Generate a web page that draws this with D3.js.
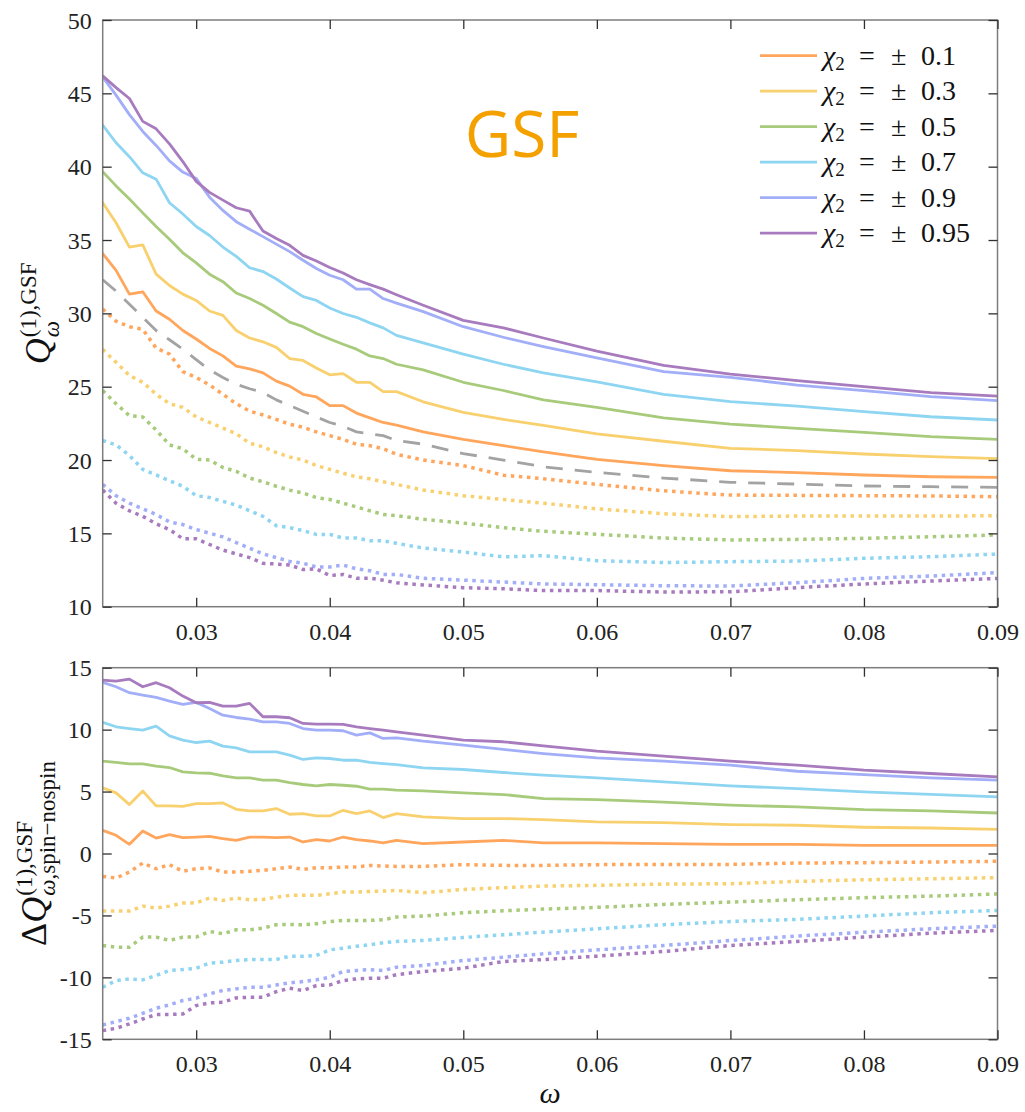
<!DOCTYPE html>
<html><head><meta charset="utf-8">
<script src="https://cdn.jsdelivr.net/npm/d3@7/dist/d3.min.js"></script>
<style>body{margin:0;background:#fff;} svg{display:block;} svg text{font-family:"Liberation Serif", serif;}</style>
</head><body>
<svg id="chart" width="1025" height="1112"></svg>
<script>
// ---- data ----
const omega = [0.023,0.024,0.025,0.026,0.027,0.028,0.029,0.030,0.031,0.032,0.033,0.034,0.035,0.036,0.037,0.038,0.039,0.040,0.041,0.042,0.043,0.044,0.045,
  0.047,0.050,0.053,0.056,0.060,0.065,0.070,0.075,0.080,0.085,0.090];
const spinLabels = ["0.1","0.3","0.5","0.7","0.9","0.95"];
const xTicks = [0.03,0.04,0.05,0.06,0.07,0.08,0.09];
const yTicksTop = [10,15,20,25,30,35,40,45,50];
const yTicksBottom = [-15,-10,-5,0,5,10,15];

// Q^(1),GSF for chi2 = +value (solid)
const qPos01 = [34.08,32.93,31.31,31.47,30.16,29.6,28.83,28.25,27.61,27.1,26.4,26.22,25.94,25.38,25.04,24.48,24.3,23.71,23.71,23.2,22.87,22.56,22.38,21.92,21.41,20.98,20.56,20.05,19.62,19.27,19.14,18.98,18.86,18.82];
const qPos03 = [37.54,36.18,34.52,34.67,32.67,31.9,31.31,30.88,30.16,29.86,28.83,28.32,28.06,27.68,26.92,26.79,26.28,25.81,25.89,25.3,25.3,24.66,24.66,23.97,23.25,22.77,22.36,21.79,21.28,20.8,20.64,20.41,20.23,20.09];
const qPos05 = [39.66,38.69,37.79,36.85,35.92,35.05,34.13,33.44,32.67,32.16,31.39,31.01,30.55,29.99,29.4,29.09,28.63,28.25,27.89,27.56,27.1,26.92,26.53,26.15,25.3,24.74,24.1,23.59,22.87,22.45,22.16,21.89,21.59,21.41];
const qPos07 = [42.83,41.63,40.68,39.58,39.15,37.54,36.77,35.92,35.31,34.52,33.88,33.11,32.85,32.34,31.73,31.14,30.88,30.37,29.99,29.73,29.35,29.01,28.5,27.99,27.22,26.53,25.94,25.33,24.48,23.98,23.68,23.3,22.95,22.73];
const qPos09 = [46.11,44.88,43.55,42.4,41.45,40.4,39.63,39.2,37.92,37.02,36.25,35.74,35.23,34.72,34.21,33.62,33.06,32.6,32.29,31.65,31.65,31.01,30.7,30.12,29.09,28.37,27.73,26.96,26.02,25.64,25.11,24.73,24.32,24.05];
const qPos095 = [46.19,45.39,44.65,43.09,42.58,41.55,40.35,39.0,38.25,37.72,37.2,36.97,35.61,35.1,34.64,33.95,33.57,33.13,32.75,32.29,31.96,31.65,31.27,30.55,29.52,29.01,28.32,27.42,26.45,25.86,25.41,25.0,24.59,24.36];
// chi2 = -value (dotted)
const qNeg01 = [30.29,29.47,29.09,28.91,27.63,27.22,26.02,25.63,25.12,24.48,23.84,23.33,23.07,22.77,22.44,22.23,21.92,21.66,21.41,21.08,20.98,20.77,20.39,20.0,19.62,18.97,18.72,18.34,17.9,17.61,17.59,17.57,17.55,17.5];
const qNeg03 = [27.55,26.66,25.76,25.3,24.48,23.84,23.59,22.94,22.56,22.18,21.79,21.15,20.9,20.51,20.21,20.0,19.62,19.36,19.1,18.85,18.72,18.52,18.34,17.95,17.57,17.31,17.06,16.67,16.34,16.14,16.18,16.18,16.18,16.2];
const qNeg05 = [24.74,23.84,23.02,22.94,22.05,21.03,20.77,20.05,20.0,19.49,19.23,18.77,18.52,18.21,17.95,17.75,17.44,17.31,17.06,16.8,16.54,16.29,16.21,15.96,15.7,15.39,15.14,14.94,14.68,14.55,14.59,14.66,14.77,14.89];
const qNeg07 = [21.33,21.03,20.31,19.36,18.98,18.59,18.21,17.57,17.44,17.18,16.93,16.54,16.16,15.52,15.39,15.19,14.93,14.93,14.68,14.68,14.5,14.5,14.32,14.0,13.73,13.4,13.48,13.14,13.01,13.07,13.11,13.3,13.41,13.59];
const qNeg09 = [18.34,17.57,17.06,16.67,16.29,15.78,15.6,15.26,15.01,14.76,14.37,13.99,13.6,13.35,13.09,12.96,12.71,12.71,12.84,12.58,12.45,12.2,12.2,11.94,11.81,11.68,11.55,11.5,11.43,11.41,11.64,11.93,12.09,12.32];
const qNeg095 = [17.95,17.06,16.54,16.16,15.65,15.26,14.63,14.63,14.24,13.86,13.6,13.35,12.96,12.91,12.84,12.53,12.58,12.12,12.2,11.94,11.94,11.81,11.63,11.48,11.3,11.22,11.1,11.1,11.0,11.02,11.3,11.55,11.75,11.93];
// non-spinning (dashed)
const qNoSpin = [32.29,31.52,30.62,29.73,28.83,28.2,27.56,26.84,26.15,25.63,25.17,24.86,24.61,24.1,23.71,23.33,22.94,22.56,22.3,21.92,21.79,21.66,21.33,21.08,20.44,20.0,19.54,19.16,18.77,18.48,18.36,18.23,18.18,18.14];

// Delta Q (spin - nospin)
const dPos01 = [1.87,1.47,0.74,1.82,1.25,1.52,1.28,1.33,1.39,1.2,1.06,1.33,1.33,1.28,1.33,0.93,1.12,1.01,1.33,1.12,1.01,0.85,1.06,0.8,0.93,1.06,0.85,0.85,0.8,0.74,0.74,0.66,0.66,0.66];
const dPos03 = [5.3,4.89,3.95,5.05,3.84,3.84,3.81,4.03,4.03,4.08,3.57,3.44,3.44,3.63,3.17,3.22,3.03,3.03,3.49,3.22,3.44,2.9,3.22,2.95,2.82,2.82,2.74,2.55,2.49,2.33,2.28,2.12,2.06,1.95];
const dPos05 = [7.45,7.35,7.24,7.24,7.05,6.94,6.59,6.51,6.48,6.27,6.11,6.11,5.92,5.92,5.73,5.57,5.46,5.57,5.51,5.43,5.19,5.19,5.11,5.05,4.89,4.76,4.43,4.35,4.14,3.9,3.76,3.54,3.44,3.27];
const dPos07 = [10.58,10.23,10.09,9.96,10.28,9.5,9.15,8.96,9.07,8.67,8.53,8.21,8.21,8.21,7.94,7.59,7.72,7.67,7.53,7.53,7.35,7.26,7.18,6.91,6.78,6.54,6.32,6.11,5.78,5.46,5.24,4.97,4.78,4.57];
const dPos09 = [13.81,13.46,12.98,12.79,12.6,12.3,12.04,12.2,11.71,11.17,10.98,10.85,10.63,10.63,10.5,10.09,9.96,9.96,9.91,9.56,9.74,9.29,9.34,9.07,8.75,8.4,8.07,7.72,7.45,7.13,6.64,6.37,6.11,5.92];
const dPos095 = [14.0,13.92,14.08,13.46,13.79,13.38,12.71,12.17,12.2,11.9,11.9,12.12,11.04,11.04,10.96,10.5,10.44,10.44,10.42,10.23,10.09,9.96,9.82,9.56,9.15,9.02,8.69,8.26,7.86,7.45,7.13,6.73,6.46,6.19];
const dNeg01 = [-1.85,-1.98,-1.5,-0.77,-1.23,-0.9,-1.44,-1.23,-1.17,-1.5,-1.5,-1.44,-1.36,-1.23,-1.09,-1.28,-1.15,-1.15,-1.09,-1.09,-0.96,-1.01,-1.04,-1.04,-0.9,-0.96,-0.96,-0.9,-0.88,-0.88,-0.77,-0.74,-0.69,-0.63];
const dNeg03 = [-4.65,-4.65,-4.65,-4.25,-4.41,-4.25,-4.0,-3.98,-3.6,-3.79,-3.6,-3.74,-3.71,-3.52,-3.38,-3.38,-3.38,-3.25,-3.11,-3.11,-3.06,-3.03,-2.98,-3.17,-2.9,-2.76,-2.63,-2.57,-2.47,-2.44,-2.25,-2.12,-2.04,-1.95];
const dNeg05 = [-7.43,-7.56,-7.56,-6.75,-6.75,-7.02,-6.75,-6.75,-6.29,-6.48,-6.16,-6.16,-6.02,-5.75,-5.73,-5.75,-5.67,-5.49,-5.4,-5.4,-5.4,-5.35,-5.13,-5.05,-4.78,-4.62,-4.49,-4.35,-4.11,-3.92,-3.73,-3.57,-3.44,-3.27];
const dNeg07 = [-10.8,-10.26,-10.12,-10.2,-9.85,-9.45,-9.37,-9.26,-8.85,-8.77,-8.64,-8.56,-8.56,-8.56,-8.29,-8.29,-8.23,-7.78,-7.64,-7.48,-7.37,-7.21,-7.1,-7.02,-6.78,-6.56,-6.35,-6.08,-5.75,-5.49,-5.32,-5.05,-4.78,-4.6];
const dNeg09 = [-13.84,-13.57,-13.3,-12.9,-12.49,-12.22,-11.87,-11.68,-11.33,-11.06,-10.93,-10.8,-10.8,-10.61,-10.44,-10.34,-10.2,-9.99,-9.53,-9.45,-9.37,-9.45,-9.18,-9.04,-8.64,-8.37,-8.1,-7.78,-7.43,-7.02,-6.67,-6.35,-6.08,-5.86];
const dNeg095 = [-14.3,-14.11,-13.76,-13.36,-13.0,-13.0,-12.95,-12.28,-12.06,-12.01,-11.66,-11.6,-11.6,-11.15,-10.88,-11.06,-10.66,-10.61,-10.26,-10.12,-10.07,-10.07,-9.78,-9.53,-9.26,-8.72,-8.56,-8.29,-7.91,-7.43,-7.1,-6.75,-6.43,-6.21];

// ---- style ----
const colors = ["#FFA65C","#F8D06E","#A7CB7B","#8ED5F2","#A2AEF7","#A87BBF"];
const grayDash = "#A3A3A3";
const serif = "Liberation Serif";

const svg = d3.select("#chart");
const x = d3.scaleLinear().domain([0.023, 0.09]).range([102.7, 997.5]);
const yTop = d3.scaleLinear().domain([10, 50]).range([606.7, 20]);
const yBot = d3.scaleLinear().domain([-15, 15]).range([1039.3, 667.7]);

const defs = svg.append("defs");
function clip(id, y) {
  defs.append("clipPath").attr("id", id).append("rect")
    .attr("x", x.range()[0]).attr("y", y.range()[1])
    .attr("width", x.range()[1] - x.range()[0]).attr("height", y.range()[0] - y.range()[1]);
}
clip("clipTop", yTop); clip("clipBot", yBot);

function drawPanel(y, clipId, series, yTicks) {
  const g = svg.append("g");
  const line = d3.line().x((d, i) => x(omega[i])).y(d => y(d));
  const lg = g.append("g").attr("clip-path", `url(#${clipId})`);
  series.forEach(s => {
    const p = lg.append("path").datum(s.values).attr("d", line)
      .attr("fill", "none").attr("stroke", s.color)
      .attr("stroke-linejoin", "round");
    if (s.style === "solid") p.attr("stroke-width", 2.8).attr("stroke-linecap", "round");
    else if (s.style === "dot") p.attr("stroke-width", 3.5).attr("stroke-dasharray", "3.5,4.6").attr("stroke-linecap", "butt");
    else p.attr("stroke-width", 2.8).attr("stroke-dasharray", "17,12").attr("stroke-linecap", "butt");
  });
  g.append("rect").attr("x", x.range()[0]).attr("y", y.range()[1])
    .attr("width", x.range()[1] - x.range()[0]).attr("height", y.range()[0] - y.range()[1])
    .attr("fill", "none").attr("stroke", "#7d7d7d").attr("stroke-width", 1.5);
  const fmt = d3.format(".2f");
  const fmtY = d => String(d);
  const axB = g.append("g").attr("transform", `translate(0,${y.range()[0]})`)
    .call(d3.axisBottom(x).tickValues(xTicks).tickSize(-9).tickPadding(16).tickFormat(fmt));
  const axT = g.append("g").attr("transform", `translate(0,${y.range()[1]})`)
    .call(d3.axisTop(x).tickValues(xTicks).tickSize(-9).tickFormat(""));
  const axL = g.append("g").attr("transform", `translate(${x.range()[0]},0)`)
    .call(d3.axisLeft(y).tickValues(yTicks).tickSize(-9).tickPadding(11).tickFormat(fmtY));
  const axR = g.append("g").attr("transform", `translate(${x.range()[1]},0)`)
    .call(d3.axisRight(y).tickValues(yTicks).tickSize(-9).tickFormat(""));
  [axB, axT, axL, axR].forEach(a => {
    a.attr("font-family", null).attr("font-size", null);
    a.select(".domain").remove();
    a.selectAll(".tick line").attr("stroke", "#303030").attr("stroke-width", 1.3);
    a.selectAll("text").style("font-family", serif).style("font-size", "24px").attr("fill", "#222");
  });
  axL.selectAll("text").attr("dy", "0.34em");
  return g;
}

const topSeries = [];
[qPos01,qPos03,qPos05,qPos07,qPos09,qPos095].forEach((v,i)=>topSeries.push({values:v,color:colors[i],style:"solid"}));
[qNeg01,qNeg03,qNeg05,qNeg07,qNeg09,qNeg095].forEach((v,i)=>topSeries.push({values:v,color:colors[i],style:"dot"}));
topSeries.push({values:qNoSpin,color:grayDash,style:"dash"});
drawPanel(yTop, "clipTop", topSeries, yTicksTop);

const botSeries = [];
[dPos01,dPos03,dPos05,dPos07,dPos09,dPos095].forEach((v,i)=>botSeries.push({values:v,color:colors[i],style:"solid"}));
[dNeg01,dNeg03,dNeg05,dNeg07,dNeg09,dNeg095].forEach((v,i)=>botSeries.push({values:v,color:colors[i],style:"dot"}));
drawPanel(yBot, "clipBot", botSeries, yTicksBottom);

// ---- legend ----
const leg = svg.append("g");
spinLabels.forEach((lab, i) => {
  const cy = 55.7 + i * 35.5;
  leg.append("line").attr("x1", 760).attr("x2", 817).attr("y1", cy).attr("y2", cy)
    .attr("stroke", colors[i]).attr("stroke-width", 2.8);
  const t = leg.append("text").attr("y", cy + 9).style("font-family", serif).style("font-size", "28px").attr("fill", "#111");
  t.append("tspan").attr("x", 823).style("font-style", "italic").text("χ");
  t.append("tspan").style("font-size", "19px").attr("dy", 5).text("2");
  t.append("tspan").attr("x", 859).attr("dy", -5).text("=");
  t.append("tspan").attr("x", 891).text("±");
  t.append("tspan").attr("x", 921).text(lab);
});

// ---- GSF tag ----
svg.append("text").attr("x", 522).attr("y", 157).attr("text-anchor", "middle")
  .style("font-family", "Open Sans").style("font-size", "64px")
  .attr("fill", "#F4A100").text("GSF");

// ---- axis labels ----
function yLabel(cx, cy, pre, preItalic, sub, sup, mainSize, smallSize) {
  const g = svg.append("g").attr("transform", `translate(${cx},${cy}) rotate(-90)`);
  const main = g.append("text").style("font-family", serif).style("font-size", mainSize + "px").attr("fill", "#111");
  pre.forEach((p, i) => main.append("tspan").style("font-style", preItalic[i] ? "italic" : "normal").text(p));
  const w0 = main.node().getComputedTextLength();
  const subT = g.append("text").style("font-family", serif).style("font-size", smallSize + "px").attr("fill", "#111")
    .attr("x", w0 + 1).attr("y", mainSize * 0.24);
  sub.forEach(s => subT.append("tspan").style("font-style", s[1] ? "italic" : "normal").text(s[0]));
  const supT = g.append("text").style("font-family", serif).style("font-size", smallSize + "px").attr("fill", "#111")
    .attr("x", w0 + 1).attr("y", -mainSize * 0.4).text(sup);
  const total = w0 + 1 + Math.max(subT.node().getComputedTextLength(), supT.node().getComputedTextLength());
  [main, subT, supT].forEach(t => t.attr("transform", `translate(${-total / 2},0)`));
}
yLabel(50, 313.4, ["Q"], [true], [["ω", true]], "(1),GSF", 36, 23);
yLabel(46, 853.5, ["Δ", "Q"], [false, true], [["ω", true], [",spin−nospin", false]], "(1),GSF", 36, 23);

svg.append("text").attr("x", x(0.0565)).attr("y", 1103).attr("text-anchor", "middle")
  .style("font-family", serif).style("font-style", "italic").style("font-size", "30px").attr("fill", "#111").text("ω");
</script>
</body></html>
